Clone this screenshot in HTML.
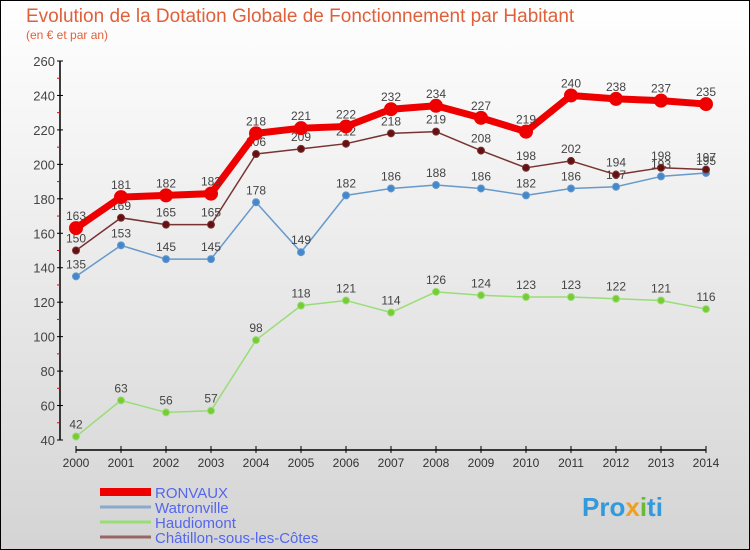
<!DOCTYPE html>
<html><head><meta charset="utf-8"><style>
body{margin:0;width:750px;height:550px;overflow:hidden;font-family:"Liberation Sans",sans-serif}
svg{display:block}
</style></head><body>
<svg id="c" width="750" height="550" xmlns="http://www.w3.org/2000/svg">
<defs><linearGradient id="bg" x1="0" y1="0" x2="0" y2="1"><stop offset="0" stop-color="#ffffff"/><stop offset="1" stop-color="#d4d4d4"/></linearGradient></defs>
<rect x="0.5" y="0.5" width="749" height="549" fill="url(#bg)" stroke="#000"/>
<text x="26" y="22" font-size="19" fill="#e0603a">Evolution de la Dotation Globale de Fonctionnement par Habitant</text>
<text x="26" y="39" font-size="12" fill="#e0603a">(en € et par an)</text>
<g id="axes"></g><g id="series"></g><g id="legend"></g>
<text x="582" y="516" font-size="26" font-weight="bold" fill="#3399dd">Pro<tspan fill="#f0a020">x</tspan><tspan fill="#66bb33">i</tspan>ti</text>
</svg>
<script>
const years=[2000,2001,2002,2003,2004,2005,2006,2007,2008,2009,2010,2011,2012,2013,2014];
const yTicks=[40,60,80,100,120,140,160,180,200,220,240,260];
const ronvaux=[163,181,182,183,218,221,222,232,234,227,219,240,238,237,235];
const watronville=[135,153,145,145,178,149,182,186,188,186,182,186,187,193,195];
const haudiomont=[42,63,56,57,98,118,121,114,126,124,123,123,122,121,116];
const chatillon=[150,169,165,165,206,209,212,218,219,208,198,202,194,198,197];
const NS="http://www.w3.org/2000/svg";
const X=i=>76+i*45;
const Y=v=>440-(v-40)*379/220;
function mk(p,t,a){const e=document.createElementNS(NS,t);for(const k in a)e.setAttribute(k,a[k]);p.appendChild(e);return e;}
const ax=document.getElementById('axes');
const yl=mk(ax,'line',{x1:60,y1:61,x2:60,y2:440,stroke:'#000','stroke-width':1.5});


yTicks.forEach(v=>{
 mk(ax,'line',{x1:57,x2:63,y1:Y(v),y2:Y(v),stroke:'#000'});
 if(v<260){const m=mk(ax,'line',{x1:57,x2:60,y1:Y(v+10),y2:Y(v+10),stroke:'#e00'});}
 const t=mk(ax,'text',{x:55,y:Y(v)+5,'text-anchor':'end','font-size':13,fill:'#444'});t.textContent=v;
 
 
});
const xl=mk(ax,'line',{x1:76,y1:450,x2:706,y2:450,stroke:'#000','stroke-width':1.5});


years.forEach((yv,i)=>{
 mk(ax,'line',{x1:X(i),x2:X(i),y1:446,y2:453,stroke:'#000'});
 const t=mk(ax,'text',{x:X(i),y:467,'text-anchor':'middle','font-size':12,fill:'#333'});t.textContent=yv;
 
 
});
const sg=document.getElementById('series');
function series(vals,color,w,r,dot,name){
 const g=mk(sg,'g',{});
 
 
 mk(g,'polyline',{points:vals.map((v,i)=>X(i)+','+Y(v)).join(' '),fill:'none',stroke:color,'stroke-width':w,'stroke-linejoin':'round'});
 vals.forEach((v,i)=>{
  const c=mk(g,'circle',{cx:X(i),cy:Y(v),r:r,fill:dot,stroke:color,'stroke-width':1});
  
  
  const t=mk(g,'text',{x:X(i),y:Y(v)-8,'text-anchor':'middle','font-size':12,fill:'#444'});t.textContent=v;
  
  
 });
}
series(haudiomont,'#99dd77',1.5,3.5,'#77cc33','haudiomont');
series(watronville,'#6699cc',1.5,3.5,'#4488cc','watronville');
series(chatillon,'#773333',1.5,3.5,'#661111','chatillon');
series(ronvaux,'#ee0000',7,6.5,'#ee0000','ronvaux');
const lg=document.getElementById('legend');
[['RONVAUX','#ee0000',8],['Watronville','#88aacc',3],['Haudiomont','#99dd77',3],['Châtillon-sous-les-Côtes','#996666',3]].forEach((d,i)=>{
 const y=492+i*15;
 const l=mk(lg,'line',{x1:100,x2:151,y1:y,y2:y,stroke:d[1],'stroke-width':d[2]});
 
 
 const t=mk(lg,'text',{x:155,y:y+6,'font-size':15,fill:'#5566ee'});t.textContent=d[0];
 
 
});
</script>
</body></html>
